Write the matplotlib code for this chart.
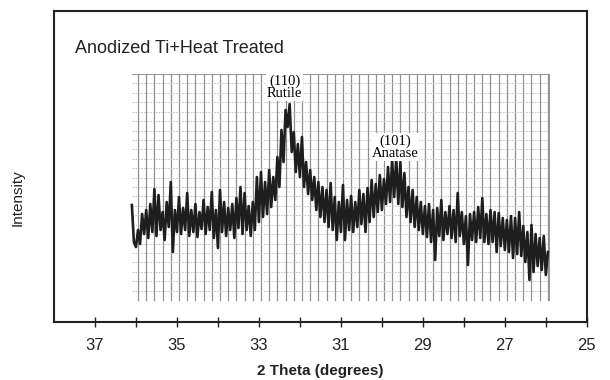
import numpy as np
import matplotlib.pyplot as plt

plt.rcParams['font.family'] = ['Liberation Sans', 'DejaVu Sans']

# XRD scan, 2-theta from 36.10 down to 25.95 in 0.05 deg steps
scan_start = 36.10
scan_step = 0.05
intensity = [
    117, 80, 75, 92, 78, 108, 88, 112, 84, 118,
    90, 133, 86, 127, 92, 110, 82, 120, 95, 140,
    70, 112, 90, 125, 88, 114, 92, 129, 86, 112,
    90, 118, 85, 110, 93, 122, 88, 115, 92, 130,
    84, 112, 74, 132, 90, 120, 86, 114, 92, 118,
    84, 124, 94, 135, 88, 129, 92, 116, 86, 120,
    92, 145, 100, 150, 105, 140, 108, 152, 115, 145,
    122, 165, 135, 192, 160, 212, 195, 218, 170, 190,
    150, 178, 145, 185, 135, 160, 128, 152, 122, 145,
    112, 140, 105, 135, 100, 132, 95, 139, 92, 125,
    82, 120, 90, 137, 82, 122, 92, 126, 90, 120,
    95, 132, 98, 128, 90, 134, 100, 142, 105, 138,
    110, 147, 112, 143, 118, 155, 120, 162, 125, 164,
    118, 160, 115, 149, 105, 135, 100, 132, 95, 125,
    92, 120, 88, 116, 85, 118, 80, 112, 62, 114,
    86, 122, 82, 110, 88, 116, 84, 112, 80, 129,
    86, 110, 78, 106, 57, 108, 82, 110, 80, 115,
    84, 124, 80, 108, 78, 112, 80, 110, 70, 109,
    76, 104, 72, 102, 70, 106, 64, 104, 68, 110,
    66, 96, 60, 90, 42, 97, 50, 88, 56, 84,
    52, 86, 47, 70,
]
two_theta = scan_start - scan_step * np.arange(len(intensity))

peak_labels = ['(110)\nRutile', '(101)\nAnatase']
peak_pos = [32.37, 29.68]
peak_height = [235, 175]

fig = plt.figure(figsize=(6.1, 3.8), dpi=100)
ax = fig.add_axes([0.0885, 0.1526, 0.8735, 0.8184])

# chart-recorder paper grid behind the trace
paper_left, paper_right = 36.10, 25.93
paper_bottom, paper_top = 22, 248
for gx in np.arange(35.95, 25.9, -0.2):
    ax.plot([gx, gx], [paper_bottom, paper_top], color='#909090', lw=0.9, zorder=1)
for gy in np.linspace(paper_bottom + 9.4, paper_top, 24):
    ax.plot([paper_left, paper_right], [gy, gy], color='#bdbdbd', lw=0.6,
            ls=(0, (2, 1.5)), zorder=1)
ax.plot([paper_left, paper_right], [paper_top, paper_top], color='#999999', lw=0.8, zorder=1)
ax.plot([paper_right, paper_right], [paper_bottom, paper_top], color='#999999', lw=0.8, zorder=1)

ax.plot(two_theta, intensity, color='#1e1e1e', lw=1.9, zorder=3)

for lab, xp, yp in zip(peak_labels, peak_pos, peak_height):
    ax.text(xp, yp, lab, family='Liberation Serif', fontsize=10.5, ha='center',
            va='center', linespacing=0.95, zorder=4,
            bbox=dict(facecolor='white', edgecolor='none', pad=0.5))

ax.text(0.04, 0.88, 'Anodized Ti+Heat Treated', transform=ax.transAxes,
        fontsize=13, color='#222222', va='center')

ax.set_xlim(38, 25)
ax.set_ylim(0, 311)
ax.set_xticks([37, 35, 33, 31, 29, 27, 25])
ax.set_xticks([36, 34, 32, 30, 28, 26], minor=True)
ax.set_yticks([])
ax.tick_params(axis='x', which='both', direction='inout', length=7, width=1,
               labelsize=12, pad=8, colors='#222222')
for s in ax.spines.values():
    s.set_linewidth(1.5)
    s.set_color('#222222')

ax.set_xlabel('2 Theta (degrees)', fontsize=11, fontweight='bold', color='#222222')
ax.set_ylabel('Intensity', fontsize=11, color='#222222')
ax.xaxis.set_label_coords(0.5, -0.136)
ax.yaxis.set_label_coords(-0.056, 0.4)

plt.savefig('out.png', dpi=100)
